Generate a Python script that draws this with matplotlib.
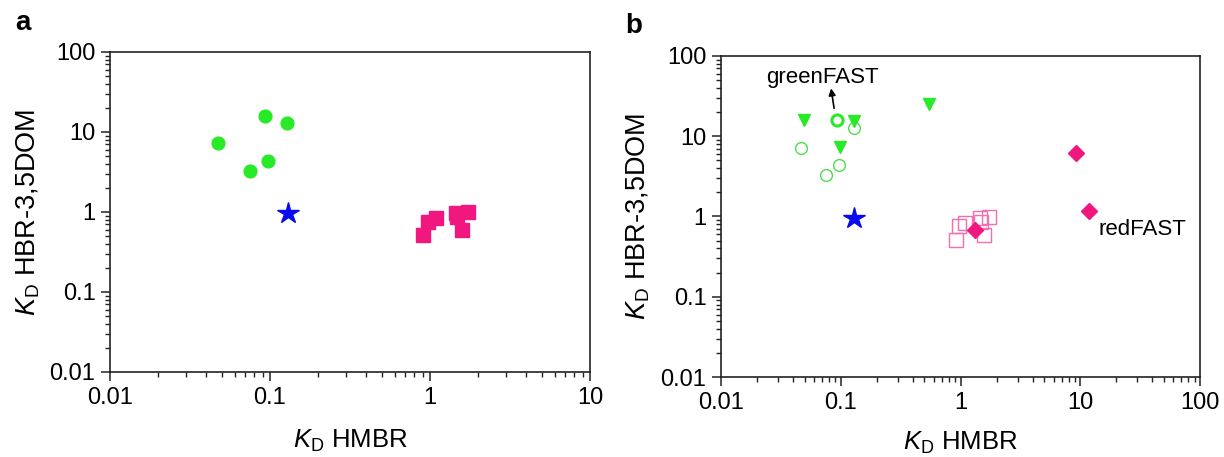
import matplotlib
matplotlib.use('Agg')
import matplotlib.pyplot as plt
import matplotlib.ticker as ticker

plt.rcParams['font.family'] = ['Liberation Sans', 'DejaVu Sans']
plt.rcParams['mathtext.fontset'] = 'custom'
plt.rcParams['mathtext.rm'] = 'Liberation Sans'
plt.rcParams['mathtext.it'] = 'Liberation Sans:italic'

# KD values (HMBR, HBR-3,5DOM)
circle_x = [0.047, 0.075, 0.097, 0.128]
circle_y = [7.2, 3.3, 4.4, 12.8]
greenfast_x = [0.093]
greenfast_y = [16.0]
square_x = [0.91, 0.97, 1.09, 1.45, 1.47, 1.72, 1.58]
square_y = [0.51, 0.76, 0.83, 0.97, 0.86, 0.99, 0.59]
star_x = [0.13]
star_y = [0.97]
triangle_x = [0.049, 0.129, 0.099, 0.55]
triangle_y = [15.9, 15.5, 7.3, 25.0]
diamond_x = [1.32, 9.3, 11.9]
diamond_y = [0.68, 6.1, 1.17]

green = '#28ea28'
pink = '#f0187f'
light_green = '#4fdc4f'
light_pink = '#f070b0'
blue = '#0a0af0'

xlabel = r'$K_\mathrm{D}$ HMBR'
ylabel = r'$K_\mathrm{D}$ HBR-3,5DOM'


def style(ax, xmax, xlab_y, ylab_x):
    ax.set_xscale('log')
    ax.set_yscale('log')
    ax.set_xlim(0.01, xmax)
    ax.set_ylim(0.01, 100)
    ax.xaxis.set_major_formatter(ticker.FuncFormatter(lambda v, p: f'{v:g}'))
    ax.yaxis.set_major_formatter(ticker.FuncFormatter(lambda v, p: f'{v:g}'))
    ax.xaxis.set_minor_locator(ticker.LogLocator(base=10, subs=range(2, 10), numticks=20))
    ax.yaxis.set_minor_locator(ticker.LogLocator(base=10, subs=range(2, 10), numticks=20))
    ax.xaxis.set_minor_formatter(ticker.NullFormatter())
    ax.yaxis.set_minor_formatter(ticker.NullFormatter())
    ax.tick_params(which='major', length=6.5, width=1.1, labelsize=17, pad=4, color='#222222')
    ax.tick_params(which='minor', length=3.3, width=1.0, color='#222222')
    for s in ax.spines.values():
        s.set_linewidth(1.2)
        s.set_color('#222222')
    ax.set_xlabel(xlabel, fontsize=18.5)
    ax.set_ylabel(ylabel, fontsize=19.5)
    ax.xaxis.set_label_coords(0.5, xlab_y)
    ax.yaxis.set_label_coords(ylab_x, 0.5)


fig = plt.figure(figsize=(12.24, 4.57), dpi=100)
ax1 = fig.add_axes([110 / 1224, 1 - 372 / 457, 480 / 1224, 320 / 457])
ax2 = fig.add_axes([721 / 1224, 1 - 377 / 457, 479 / 1224, 321 / 457])

# panel a
ax1.plot(circle_x + greenfast_x, circle_y + greenfast_y, 'o', ms=9.2, color=green, mec=green)
ax1.plot(square_x, square_y, 's', ms=9.5, color=pink, mec=pink)
ax1.plot(star_x, star_y, '*', ms=16, color=blue, mec=blue)
style(ax1, 10, -0.175, -0.142)

# panel b
ax2.plot(circle_x, circle_y, 'o', ms=8.5, mfc='none', mec=light_green, mew=1.0)
ax2.plot(greenfast_x, greenfast_y, 'o', ms=8, mfc='none', mec=green, mew=2.2)
ax2.plot(triangle_x, triangle_y, 'v', ms=9, color=green, mec=green)
ax2.plot(square_x, square_y, 's', ms=9.5, mfc='none', mec=light_pink, mew=1.0)
ax2.plot(diamond_x, diamond_y, 'D', ms=8.5, color=pink, mec=pink)
ax2.plot(star_x, star_y, '*', ms=16, color=blue, mec=blue)
ax2.annotate('', xy=(0.083, 39.5), xytext=(0.088, 22.3),
             arrowprops=dict(arrowstyle='-|>', color='black', lw=1.2, mutation_scale=10,
                             shrinkA=0, shrinkB=0))
ax2.text(0.0705, 54.7, 'greenFAST', fontsize=16, ha='center', va='center')
ax2.text(33, 0.68, 'redFAST', fontsize=16, ha='center', va='center')
style(ax2, 100, -0.165, -0.144)

fig.text(15 / 1224, 1 - 30 / 457, 'a', fontsize=20, fontweight='bold', va='baseline')
fig.text(625 / 1224, 1 - 33 / 457, 'b', fontsize=20, fontweight='bold', va='baseline')

fig.savefig('out.png', dpi=100)
